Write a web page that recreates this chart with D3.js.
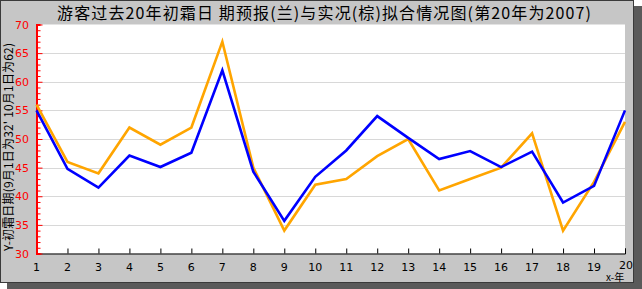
<!DOCTYPE html>
<html>
<head>
<meta charset="utf-8">
<script src="https://cdn.jsdelivr.net/npm/d3@7"></script>
<style>
  body { margin: 0; background: #fff; }
  svg { display: block; font-family: "Noto Sans CJK SC", "DejaVu Sans", sans-serif; }
</style>
</head>
<body>
<div id="chart"></div>
<script>
// years 1..20, 20th year is 2007
const years = d3.range(1, 21);
// forecast (blue)
const forecast = [55, 44.8, 41.5, 47.1, 45.1, 47.6, 62, 44.3, 35.7, 43.4, 48, 54, 50.2, 46.5, 47.9, 45.1, 47.8, 38.9, 41.8, 55];
// observed (orange)
const observed = [56, 46, 44, 52, 49, 52, 67, 45, 34, 42, 43, 47, 50, 41, 43, 45, 51, 34, 42.5, 53];
const yTicks = [30, 35, 40, 45, 50, 55, 60, 65, 70];

const W = 642, H = 289;
const plot = { left: 36.5, right: 625, top: 24.5, bottom: 253.5 };

const svg = d3.select('#chart').append('svg')
  .attr('width', W)
  .attr('height', H);

// frame with shadow
svg.append('rect').attr('x', 7).attr('y', 6).attr('width', W - 7).attr('height', H - 6).attr('fill', '#5a5a5a');
svg.append('rect').attr('x', 0.5).attr('y', 0.5).attr('width', 633).attr('height', 282)
  .attr('fill', '#c6c6c6').attr('stroke', '#3a3a3a');

// plot background
svg.append('rect')
  .attr('x', plot.left).attr('y', plot.top)
  .attr('width', plot.right - plot.left).attr('height', plot.bottom - plot.top)
  .attr('fill', '#fff');

const x = d3.scaleLinear().domain([1, 20]).range([plot.left, plot.right]);
const y = d3.scaleLinear().domain([30, 70]).range([plot.bottom, plot.top]);

// horizontal grid
svg.append('g')
  .selectAll('line')
  .data(yTicks.filter(d => d > 30 && d < 70))
  .enter()
  .append('line')
  .attr('x1', plot.left).attr('x2', plot.right)
  .attr('y1', d => Math.round(y(d)) + 0.5).attr('y2', d => Math.round(y(d)) + 0.5)
  .attr('stroke', '#d8d8d8');

// x axis: ticks go up into the plot
const xAxis = svg.append('g')
  .attr('transform', `translate(0,${plot.bottom})`)
  .call(d3.axisTop(x).tickValues(years).tickSize(5).tickFormat(''));
xAxis.select('.domain').attr('stroke', '#000');
xAxis.selectAll('.tick line').attr('stroke', '#000');

svg.append('g')
  .selectAll('text')
  .data(years)
  .enter()
  .append('text')
  .attr('x', d => d === 20 ? x(d) + 1 : x(d))
  .attr('y', d => d === 20 ? 269 : 271)
  .attr('text-anchor', 'middle')
  .attr('font-size', 11)
  .attr('fill', '#000')
  .attr('font-family', 'DejaVu Sans, sans-serif')
  .text(d => d);

svg.append('text')
  .attr('x', 606).attr('y', 281)
  .attr('font-size', 10)
  .attr('fill', '#000')
  .text('x-年');

// y axis in red, minor ticks every unit
const yAxis = svg.append('g')
  .attr('transform', `translate(${plot.left},0)`)
  .call(d3.axisRight(y).tickValues(d3.range(30, 71)).tickSize(4).tickFormat(''));
yAxis.select('.domain').attr('stroke', '#ff0000').attr('stroke-width', 2);
yAxis.selectAll('.tick line').attr('stroke', '#ff0000')
  .attr('x2', d => d % 5 === 0 ? 6 : 4);

svg.append('g')
  .selectAll('text')
  .data(yTicks)
  .enter()
  .append('text')
  .attr('x', 29)
  .attr('y', d => y(d) + 4)
  .attr('text-anchor', 'end')
  .attr('font-size', 11)
  .attr('fill', '#ff0000')
  .attr('font-family', 'DejaVu Sans, sans-serif')
  .text(d => d);

// y label
svg.append('text')
  .attr('transform', `translate(13,${(plot.top + plot.bottom) / 2 + 8}) rotate(-90)`)
  .attr('text-anchor', 'middle')
  .attr('font-size', 12)
  .attr('fill', '#000')
  .attr('textLength', 208)
  .attr('lengthAdjust', 'spacing')
  .text("Y-初霜日期(9月1日为32' 10月1日为62)");

// title
svg.append('text')
  .attr('x', 324).attr('y', 18.5)
  .attr('text-anchor', 'middle')
  .attr('font-size', 16)
  .attr('fill', '#000')
  .attr('textLength', 534)
  .attr('lengthAdjust', 'spacing')
  .text('游客过去20年初霜日 期预报(兰)与实况(棕)拟合情况图(第20年为2007)');

// series
const line = d3.line().x((d, i) => x(years[i])).y(d => y(d));

svg.append('path')
  .datum(observed)
  .attr('d', line)
  .attr('fill', 'none')
  .attr('stroke', '#ffa500')
  .attr('stroke-width', 2.6);

svg.append('path')
  .datum(forecast)
  .attr('d', line)
  .attr('fill', 'none')
  .attr('stroke', '#0000ff')
  .attr('stroke-width', 2.6);
</script>
</body>
</html>
